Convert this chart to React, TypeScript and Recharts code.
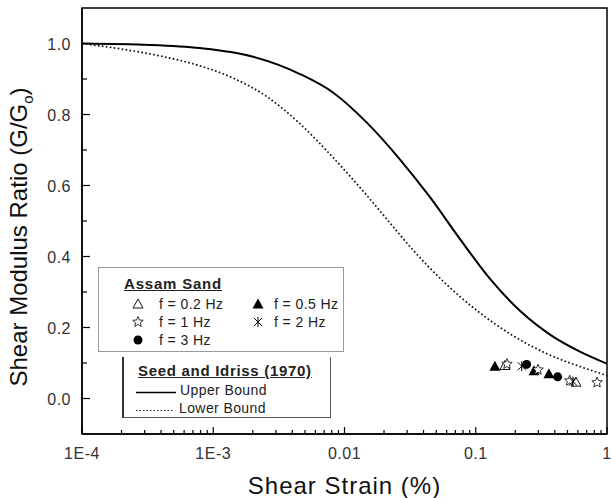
import React from 'react';
import { ComposedChart, XAxis, YAxis, Line, Scatter } from 'recharts';

// Seed and Idriss (1970) bounds
const upperStrain = [1e-4, 3.3e-4, 7.93e-4, 1.91e-3, 4.58e-3, 8.17e-3, 0.0148, 0.0265, 0.0448, 0.0759, 0.1285, 0.2173, 0.368, 0.622, 1];
const upperRatio = [1.0, 0.996, 0.987, 0.965, 0.914, 0.862, 0.777, 0.673, 0.567, 0.449, 0.337, 0.247, 0.18, 0.132, 0.098];

const lowerStrain = [1e-4, 1.95e-4, 3.93e-4, 7.93e-4, 1.41e-3, 2.57e-3, 4.58e-3, 8.17e-3, 0.0148, 0.0251, 0.0333, 0.0448, 0.0604, 0.1077, 0.192, 0.349, 0.622, 1];
const lowerRatio = [1.0, 0.985, 0.965, 0.937, 0.903, 0.85, 0.774, 0.679, 0.572, 0.471, 0.418, 0.367, 0.32, 0.241, 0.177, 0.126, 0.09, 0.065];

// Assam Sand test points
const f02Strain = [0.167, 0.58];
const f02Ratio = [0.093, 0.046];
const f05Strain = [0.14, 0.278, 0.361];
const f05Ratio = [0.091, 0.078, 0.07];
const f1Strain = [0.173, 0.298, 0.52, 0.84];
const f1Ratio = [0.097, 0.081, 0.05, 0.045];
const f2Strain = [0.224, 0.55];
const f2Ratio = [0.091, 0.048];
const f3Strain = [0.244, 0.421];
const f3Ratio = [0.096, 0.061];

const xMajorTicks = [1e-4, 1e-3, 0.01, 0.1, 1];
const xTickLabels = ['1E-4', '1E-3', '0.01', '0.1', '1'];
const yMajorTicks = [0, 0.2, 0.4, 0.6, 0.8, 1.0];
const yMinorTicks = [0.1, 0.3, 0.5, 0.7, 0.9];
const xDomain = [1e-4, 1];
const yDomain = [-0.1, 1.1];

const zip = (xs: number[], ys: number[]) => xs.map((x, i) => ({ x, y: ys[i] }));

const upperData = zip(upperStrain, upperRatio);
const lowerData = zip(lowerStrain, lowerRatio);

// minor ticks 2..9 inside every decade
const xTicks: number[] = [];
xMajorTicks.forEach((m, i) => {
  xTicks.push(m);
  if (i < xMajorTicks.length - 1) {
    for (let k = 2; k <= 9; k++) xTicks.push(m * k);
  }
});
const yTicks = [...yMajorTicks, ...yMinorTicks].sort((a, b) => a - b);

const FONT = 'Arial, "Liberation Sans", sans-serif';

// chart layout
const W = 611;
const H = 498;
const margin = { top: 8, right: 4, bottom: 0, left: 0 };
const Y_AXIS_W = 82;
const X_AXIS_H = 64;

const XTick = (props: any) => {
  const { x, y, payload } = props;
  const v = payload.value;
  const idx = xMajorTicks.findIndex(m => Math.abs(m - v) / m < 1e-6);
  const major = idx >= 0;
  return (
    <g>
      <line x1={x} x2={x} y1={y} y2={y - (major ? 7 : 4)} stroke="#000" strokeWidth={1.2} />
      {major && (
        <text x={x} y={y + 25} textAnchor="middle" fontSize={16} fill="#333" fontFamily={FONT} letterSpacing={0.5}>
          {xTickLabels[idx]}
        </text>
      )}
    </g>
  );
};

const YTick = (props: any) => {
  const { x, y, payload } = props;
  const v = payload.value;
  const major = yMajorTicks.some(m => Math.abs(m - v) < 1e-6);
  return (
    <g>
      <line x1={x} x2={x + (major ? 8 : 5)} y1={y} y2={y} stroke="#000" strokeWidth={1.2} />
      {major && (
        <text x={x - 11} y={y + 6} textAnchor="end" fontSize={16} fill="#333" fontFamily={FONT} letterSpacing={0.5}>
          {v.toFixed(1)}
        </text>
      )}
    </g>
  );
};

const XTitle = (props: any) => {
  const vb = props.viewBox || { x: 82, y: 434, width: 525, height: 64 };
  return (
    <text x={vb.x + vb.width / 2} y={vb.y + 60} textAnchor="middle" fontSize={24} fill="#111" fontFamily={FONT} letterSpacing={1}>
      Shear Strain (%)
    </text>
  );
};

const YTitle = (props: any) => {
  const vb = props.viewBox || { x: 0, y: 8, width: 82, height: 426 };
  const cx = vb.x + 27;
  const cy = vb.y + vb.height / 2 + 16;
  return (
    <text transform={`translate(${cx},${cy}) rotate(-90)`} textAnchor="middle" fontSize={24} fill="#111" fontFamily={FONT}>
      Shear Modulus Ratio (G/G
      <tspan fontSize={15} dy={6}>o</tspan>
      <tspan dy={-6}>)</tspan>
    </text>
  );
};

const OpenTriangle = (p: any) => (
  <path d={`M${p.cx},${p.cy - 5}L${p.cx + 5},${p.cy + 4}L${p.cx - 5},${p.cy + 4}Z`} fill="#fff" stroke="#000" strokeWidth={0.9} />
);
const FilledTriangle = (p: any) => (
  <path d={`M${p.cx},${p.cy - 5.5}L${p.cx + 5.5},${p.cy + 4.5}L${p.cx - 5.5},${p.cy + 4.5}Z`} fill="#000" />
);
const starPath = (cx: number, cy: number, r: number) => {
  let d = '';
  for (let i = 0; i < 10; i++) {
    const rr = i % 2 === 0 ? r : r * 0.45;
    const a = -Math.PI / 2 + (i * Math.PI) / 5;
    d += `${i === 0 ? 'M' : 'L'}${cx + rr * Math.cos(a)},${cy + rr * Math.sin(a)}`;
  }
  return d + 'Z';
};
const OpenStar = (p: any) => <path d={starPath(p.cx, p.cy, 5.5)} fill="#fff" stroke="#000" strokeWidth={0.8} />;
const Asterisk = (p: any) => (
  <g stroke="#000" strokeWidth={1}>
    <line x1={p.cx - 4} y1={p.cy - 4} x2={p.cx + 4} y2={p.cy + 4} />
    <line x1={p.cx - 4} y1={p.cy + 4} x2={p.cx + 4} y2={p.cy - 4} />
    <line x1={p.cx} y1={p.cy - 5} x2={p.cx} y2={p.cy + 5} />
  </g>
);
const FilledCircle = (p: any) => <circle cx={p.cx} cy={p.cy} r={4.5} fill="#000" />;

const Sym = ({ children }: { children: React.ReactNode }) => (
  <svg width={14} height={14} style={{ position: 'absolute', overflow: 'visible' }}>{children}</svg>
);

const textRow = (left: number, top: number, text: string) => (
  <div style={{ position: 'absolute', left, top, fontSize: 14, lineHeight: '14px', letterSpacing: 0.4, color: '#222', whiteSpace: 'nowrap' }}>
    {text}
  </div>
);

export default function App() {
  const plotLeft = margin.left + Y_AXIS_W;
  const plotTop = margin.top;
  const plotW = W - margin.right - plotLeft;
  const plotH = H - margin.bottom - X_AXIS_H - plotTop;
  return (
    <div style={{ position: 'absolute', left: 0, top: 0, width: W, height: H, background: '#fff', fontFamily: FONT }}>
      <ComposedChart width={W} height={H} margin={margin}>
        <XAxis
          type="number"
          dataKey="x"
          scale="log"
          domain={xDomain}
          allowDataOverflow
          ticks={xTicks}
          interval={0}
          tickSize={0}
          tickMargin={0}
          tick={<XTick />}
          height={X_AXIS_H}
          axisLine={{ stroke: '#000', strokeWidth: 1.5 }}
          label={<XTitle />}
        />
        <YAxis
          type="number"
          dataKey="y"
          domain={yDomain}
          allowDataOverflow
          ticks={yTicks}
          interval={0}
          tickSize={0}
          tickMargin={0}
          tick={<YTick />}
          width={Y_AXIS_W}
          axisLine={{ stroke: '#000', strokeWidth: 1.5 }}
          label={<YTitle />}
        />
        <Line data={upperData} dataKey="y" type="monotone" stroke="#000" strokeWidth={2} dot={false} isAnimationActive={false} />
        <Line data={lowerData} dataKey="y" type="monotone" stroke="#111" strokeWidth={1.7} strokeDasharray="1.7 2.3" dot={false} isAnimationActive={false} />
        <Scatter data={zip(f05Strain, f05Ratio)} dataKey="y" shape={FilledTriangle} isAnimationActive={false} />
        <Scatter data={zip(f02Strain, f02Ratio)} dataKey="y" shape={OpenTriangle} isAnimationActive={false} />
        <Scatter data={zip(f1Strain, f1Ratio)} dataKey="y" shape={OpenStar} isAnimationActive={false} />
        <Scatter data={zip(f2Strain, f2Ratio)} dataKey="y" shape={Asterisk} isAnimationActive={false} />
        <Scatter data={zip(f3Strain, f3Ratio)} dataKey="y" shape={FilledCircle} isAnimationActive={false} />
      </ComposedChart>

      {/* plot frame */}
      <svg width={W} height={H} style={{ position: 'absolute', left: 0, top: 0, pointerEvents: 'none', zIndex: 2 }}>
        <rect x={plotLeft} y={plotTop} width={plotW} height={plotH} fill="none" stroke="#000" strokeWidth={1.5} />
      </svg>

      {/* Assam Sand legend */}
      <div style={{ position: 'absolute', left: 98, top: 267, width: 244, height: 83, border: '1px solid #999', background: '#fff', zIndex: 3 }}>
        <div style={{ position: 'absolute', left: 25, top: 8, fontSize: 15, lineHeight: '15px', fontWeight: 'bold', textDecoration: 'underline', letterSpacing: 0.8, color: '#222' }}>
          Assam Sand
        </div>
        <div style={{ position: 'absolute', left: 32, top: 29 }}><Sym><OpenTriangle cx={7} cy={7} /></Sym></div>
        {textRow(60, 29, 'f = 0.2 Hz')}
        <div style={{ position: 'absolute', left: 152, top: 29 }}><Sym><FilledTriangle cx={7} cy={7} /></Sym></div>
        {textRow(175, 29, 'f = 0.5 Hz')}
        <div style={{ position: 'absolute', left: 32, top: 47 }}><Sym><OpenStar cx={7} cy={7} /></Sym></div>
        {textRow(60, 47, 'f = 1 Hz')}
        <div style={{ position: 'absolute', left: 152, top: 47 }}><Sym><Asterisk cx={7} cy={7} /></Sym></div>
        {textRow(175, 47, 'f = 2 Hz')}
        <div style={{ position: 'absolute', left: 32, top: 65 }}><Sym><FilledCircle cx={7} cy={7} /></Sym></div>
        {textRow(60, 65, 'f = 3 Hz')}
      </div>

      {/* Seed and Idriss legend */}
      <div style={{ position: 'absolute', left: 122, top: 357, width: 206, height: 60, borderLeft: '2px solid #333', borderRight: '1px solid #555', borderBottom: '1px solid #555', background: '#fff', zIndex: 3 }}>
        <div style={{ position: 'absolute', left: 14, top: 6, fontSize: 15, lineHeight: '15px', fontWeight: 'bold', textDecoration: 'underline', letterSpacing: 0.7, color: '#222', whiteSpace: 'nowrap' }}>
          Seed and Idriss (1970)
        </div>
        <svg width={60} height={60} style={{ position: 'absolute', left: 0, top: 0 }}>
          <line x1={12} x2={52} y1={35.5} y2={35.5} stroke="#000" strokeWidth={1.5} />
          <line x1={12} x2={50} y1={53.5} y2={53.5} stroke="#222" strokeWidth={1.2} strokeDasharray="1.5 2" />
        </svg>
        {textRow(56, 26, 'Upper Bound')}
        {textRow(55, 44, 'Lower Bound')}
      </div>
    </div>
  );
}
